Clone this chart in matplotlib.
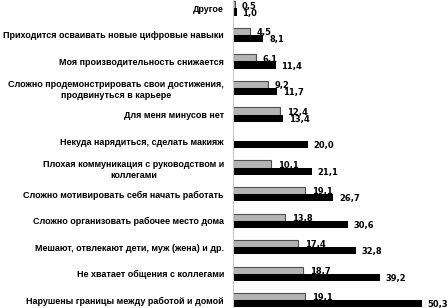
import matplotlib
matplotlib.use("Agg")
import matplotlib.pyplot as plt
import numpy as np

categories = [
    "Другое",
    "Приходится осваивать новые цифровые навыки",
    "Моя производительность снижается",
    "Сложно продемонстрировать свои достижения,\nпродвинуться в карьере",
    "Для меня минусов нет",
    "Некуда нарядиться, сделать макияж",
    "Плохая коммуникация с руководством и\nколлегами",
    "Сложно мотивировать себя начать работать",
    "Сложно организовать рабочее место дома",
    "Мешают, отвлекают дети, муж (жена) и др.",
    "Не хватает общения с коллегами",
    "Нарушены границы между работой и домой",
]
gray_vals = [0.5, 4.5, 6.1, 9.2, 12.4, None, 10.1, 19.1, 13.8, 17.4, 18.7, 19.1]
black_vals = [1.0, 8.1, 11.4, 11.7, 13.4, 20.0, 21.1, 26.7, 30.6, 32.8, 39.2, 50.3]

W, H = 448, 308
fig = plt.figure(figsize=(W / 100, H / 100), dpi=100)
ax = fig.add_axes([233 / W, 0, 1 - 233 / W, 1])

y = np.arange(len(categories))
h = 0.265

for i, (g, b) in enumerate(zip(gray_vals, black_vals)):
    if g is not None:
        ax.barh(y[i] - h / 2, g, height=h, color="#b4b4b4",
                edgecolor="#505050", linewidth=0.8)
        ax.annotate(f"{g:.1f}".replace(".", ","), (g, y[i] - h / 2 + 0.05),
                    xytext=(5, 0), textcoords="offset points",
                    ha="left", va="center", fontsize=6, fontweight="bold")
    ax.barh(y[i] + h / 2, b, height=h, color="black")
    ax.annotate(f"{b:.1f}".replace(".", ","), (b, y[i] + h / 2 + 0.05),
                xytext=(4, 0), textcoords="offset points",
                ha="left", va="center", fontsize=6, fontweight="bold")

ax.set_xlim(0, 57.2)
ax.set_ylim(11.3, -0.32)
ax.set_yticks(y)
ax.set_yticklabels(categories, fontsize=6.5, fontweight="bold",
                   family="Liberation Sans")
for lbl in ax.get_yticklabels():
    lbl.set_multialignment("center")
    lbl.set_linespacing(1.35)
ax.tick_params(axis="y", length=0, pad=6.5)
ax.set_xticks([])
for s in ["top", "right", "bottom"]:
    ax.spines[s].set_visible(False)
ax.spines["left"].set_color("#c8c8c8")
ax.spines["left"].set_linewidth(0.8)

fig.savefig("out.png", dpi=100)
